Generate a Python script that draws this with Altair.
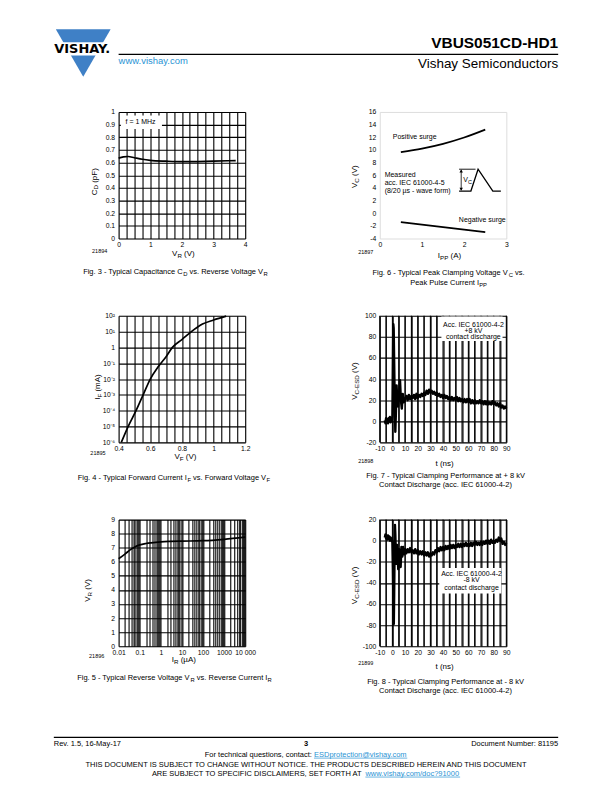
import altair as alt
import pandas as pd

FONT = "Liberation Sans"
LOGO_BLUE = "#3f80c6"
LINK_BLUE = "#2a93d4"
PW, PH = 127, 127
COL_GAP, ROW_GAP = 135, 77.5
LEFT_X, RIGHT_X = 118, 380
ROW_Y = [110, 314.5, 519]
SUB = 0.78

# ---------------- data ----------------
# Fig. 3  capacitance vs reverse voltage
fig3_vr = [0, 0.15, 0.3, 0.5, 0.75, 1.0, 1.5, 2.0, 2.5, 3.0, 3.7]
fig3_cd = [0.635, 0.645, 0.648, 0.638, 0.626, 0.618, 0.611, 0.607, 0.608, 0.611, 0.616]
fig3_xticks = [0, 0.25, 0.5, 0.75, 1, 1.25, 1.5, 1.75, 2, 2.25, 2.5, 2.75, 3, 3.25, 3.5, 3.75, 4]
fig3_xlab_at = [0, 1, 2, 3, 4]
fig3_xlab = ["0", "1", "2", "3", "4"]
fig3_yticks = [0, 0.1, 0.2, 0.3, 0.4, 0.5, 0.6, 0.7, 0.8, 0.9, 1]
fig3_ylab = ["0", "0.1", "0.2", "0.3", "0.4", "0.5", "0.6", "0.7", "0.8", "0.9", "1"]

# Fig. 6  clamping voltage vs peak pulse current
fig6_ipp = [0.5, 1.0, 1.5, 2.0, 2.5]
fig6_pos = [9.65, 10.2, 10.95, 11.95, 13.2]
fig6_neg = [-1.4, -1.8, -2.2, -2.6, -3.0]
fig6_xticks = [0, 1, 2, 3]
fig6_xlab = ["0", "1", "2", "3"]
fig6_yticks = [-4, -2, 0, 2, 4, 6, 8, 10, 12, 14, 16]
fig6_ylab = ["-4", "-2", "0", "2", "4", "6", "8", "10", "12", "14", "16"]
fig6_pulse_x = [1.88, 2.16, 2.33, 2.68, 2.87]
fig6_pulse_y = [3.5, 3.5, 6.95, 3.5, 3.5]

# Fig. 4  forward current vs forward voltage
fig4_vf = [0.417, 0.46, 0.51, 0.555, 0.60, 0.65, 0.70, 0.74, 0.80, 0.86, 0.93, 1.00, 1.08]
fig4_if = [1e-6, 1e-5, 1e-4, 1e-3, 1e-2, 6e-2, 0.26, 1.0, 3.1, 10, 30, 54, 95]
fig4_xticks = [0.4, 0.45, 0.5, 0.55, 0.6, 0.65, 0.7, 0.75, 0.8, 0.85, 0.9, 0.95, 1.0,
               1.05, 1.1, 1.15, 1.2]
fig4_xlab_at = [0.4, 0.6, 0.8, 1.0, 1.2]
fig4_xlab = ["0.4", "0.6", "0.8", "1", "1.2"]
fig4_yticks = [1e-6, 1e-5, 1e-4, 1e-3, 1e-2, 1e-1, 1, 10, 100]
fig4_ylab = ["10⁻⁶", "10⁻⁵", "10⁻⁴", "10⁻³", "10⁻²", "10⁻¹", "1", "10¹", "10²"]

# Fig. 5  reverse voltage vs reverse current
fig5_ir = [0.01, 0.02, 0.035, 0.056, 0.1, 0.2, 0.34, 1, 3, 10, 100, 1000, 10000]
fig5_vr = [6.22, 6.55, 6.85, 7.04, 7.2, 7.3, 7.35, 7.42, 7.45, 7.47, 7.5, 7.6, 7.75]
fig5_decades = [0.01, 0.1, 1, 10, 100, 1000, 10000]
fig5_xlab = ["0.01", "0.1", "1", "10", "100", "1000", "10 000"]
fig5_xticks = [d * m for d in fig5_decades[:-1] for m in range(1, 10)] + [10000]
fig5_yticks = [0, 1, 2, 3, 4, 5, 6, 7, 8, 9]
fig5_ylab = ["0", "1", "2", "3", "4", "5", "6", "7", "8", "9"]

# Fig. 7 / Fig. 8  ESD waveforms
wave_t_pre = [-6, -5.5, -5, -4.5, -4, -3.5, -3, -2.5, -2, -1.5, -1, -0.5, 0]
wave_t_post = [10, 11, 12, 13, 14, 15, 16, 17, 18, 19, 20, 21, 22, 23, 24, 25, 26, 27, 28, 29,
               30, 31, 32, 33, 34, 35, 36, 37, 38, 39, 40, 41, 42, 43, 44, 45, 46, 47, 48, 49,
               50, 51, 52, 53, 54, 55, 56, 57, 58, 59, 60, 61, 62, 63, 64, 65, 66, 67, 68, 69,
               70, 71, 72, 73, 74, 75, 76, 77, 78, 79, 80, 81, 82, 83, 84, 85, 86, 87, 88, 89, 90]
fig7_v_pre = [1, -2, 3, -1, 2, -2, 3, 0, 4, -1, 2, 0, 5]
fig7_t_spike = [0.3, 0.7, 1.0, 1.4, 1.8, 2.3, 2.8, 3.3, 3.8, 4.5, 5.2, 6.0, 6.7, 7.4, 8.2, 9.0]
fig7_v_spike = [40, 92, 88, 55, 20, -10, 10, 34, 20, 14, 25, 39, 20, 12, 26, 18]
fig7_v_post = [21, 24, 20, 25, 21, 24, 22, 25, 21, 26,
               22, 25, 23, 26, 24, 27, 25, 29, 26, 30,
               27, 29, 26, 28, 25, 27, 24, 26, 23, 25,
               22, 25, 22, 24, 21, 23, 20, 23, 20, 22,
               20, 23, 19, 22, 19, 21, 18, 21, 18, 21,
               18, 21, 17, 20, 17, 20, 17, 19, 17, 20,
               17, 19, 16, 19, 16, 19, 16, 18, 16, 19,
               16, 18, 15, 17, 14, 17, 13, 15, 12, 14, 12]
fig8_v_pre = [3, 6, 2, 5, 1, 5, 2, 4, 0, 3, 1, 2, -2]
fig8_t_spike = [0.4, 0.8, 1.1, 1.4, 1.7, 2.0, 2.3, 2.7, 3.2, 3.7, 4.2, 4.6, 5.2, 5.8, 6.5, 7.1,
                7.8, 8.5, 9.2]
fig8_v_spike = [-25, -62, -79, -50, -12, 15, 6, -12, -22, -4, -14, -27, -8, -16, -25, -6,
                -15, -6, -13]
fig8_v_post = [-8, -12, -8, -11, -7, -11, -9, -12, -8, -12,
               -9, -13, -10, -13, -10, -14, -11, -14, -11, -15,
               -12, -14, -11, -13, -9, -11, -7, -10, -6, -9,
               -6, -9, -5, -8, -5, -8, -4, -7, -4, -7,
               -4, -6, -3, -6, -3, -6, -3, -5, -2, -5,
               -3, -5, -2, -5, -2, -4, -1, -4, -2, -4,
               -1, -4, -1, -3, 0, -3, 0, -3, 1, -2,
               0, -2, 1, -1, 3, 0, 2, -3, -1, -4, -2]
esd_xticks = [-10, -5, 0, 5, 10, 15, 20, 25, 30, 35, 40, 45, 50, 55, 60, 65, 70, 75, 80, 85, 90]
esd_xlab_at = [-10, 0, 10, 20, 30, 40, 50, 60, 70, 80, 90]
esd_xlab = ["-10", "0", "10", "20", "30", "40", "50", "60", "70", "80", "90"]
fig7_yticks = [-20, 0, 20, 40, 60, 80, 100]
fig7_ylab = ["-20", "0", "20", "40", "60", "80", "100"]
fig8_yticks = [-100, -80, -60, -40, -20, 0, 20]
fig8_ylab = ["-100", "-80", "-60", "-40", "-20", "0", "20"]

# ---------------- helpers ----------------
AW = {' ': 278, '!': 278, '#': 556, '%': 889, '&': 667, "'": 191, '(': 333, ')': 333,
      '+': 584, ',': 278, '-': 333, '.': 278, '/': 278, ':': 278, ';': 278, '=': 584,
      '?': 556, '@': 1015, 'A': 667, 'B': 667, 'C': 722, 'D': 722, 'E': 667, 'F': 611,
      'G': 778, 'H': 722, 'I': 278, 'J': 500, 'K': 667, 'L': 556, 'M': 833, 'N': 722,
      'O': 778, 'P': 667, 'Q': 778, 'R': 722, 'S': 667, 'T': 611, 'U': 722, 'V': 667,
      'W': 944, 'X': 667, 'Y': 667, 'Z': 611, 'a': 556, 'b': 556, 'c': 500, 'd': 556,
      'e': 556, 'f': 278, 'g': 556, 'h': 556, 'i': 222, 'j': 222, 'k': 500, 'l': 222,
      'm': 833, 'n': 556, 'o': 556, 'p': 556, 'q': 556, 'r': 333, 's': 500, 't': 278,
      'u': 556, 'v': 500, 'w': 722, 'x': 500, 'y': 500, 'z': 500, 'µ': 556}


def tw(s, size):
    return sum(AW.get(c, 556) for c in s) * size / 1000.0


def label_expr(vals, texts):
    expr = "''"
    for v, t in reversed(list(zip(vals, texts))):
        tol = abs(v) * 1e-3 + 1e-9
        expr = f"(abs(datum.value - ({v!r})) < {tol!r} ? '{t}' : {expr})"
    return expr


def mk_axis(values, lab_vals, lab_txt, grid=True, pad=3):
    return alt.Axis(values=values, grid=grid, gridColor="black", gridWidth=1.1, gridOpacity=1,
                    ticks=False, domain=False, labelFont=FONT, labelFontSize=6.8,
                    labelColor="black", labelPadding=pad, labelFlush=False,
                    labelOverlap=False, labelExpr=label_expr(lab_vals, lab_txt), title=None)


ONE = pd.DataFrame({"k": [0]})


class Host:
    """Page-level texts and rules, placed relative to one figure's plot origin."""

    def __init__(self, ox, oy):
        self.ox, self.oy = ox, oy
        self.layers = []

    def text(self, s, px, py, size=7.5, align="left", angle=0, color="black",
             weight="normal", font=FONT):
        mk = dict(text=s, font=font, fontSize=size, fontWeight=weight, align=align,
                  baseline="alphabetic", color=color)
        if angle:
            mk["angle"] = angle
        self.layers.append(alt.Chart(ONE).mark_text(**mk).encode(
            x=alt.value(px - self.ox), y=alt.value(py - self.oy)))

    def rich(self, parts, px, py, size=7.5, align="center", angle=0):
        sizes = [size * SUB if p[1] else size for p in parts]
        ws = [tw(p[0], s) for p, s in zip(parts, sizes)]
        total = sum(ws)
        off = {"left": 0.0, "center": -total / 2, "right": -total}[align]
        spans = []
        for p, s, w in zip(parts, sizes, ws):
            color = p[2] if len(p) > 2 else "black"
            shift = size * 0.22 if p[1] else 0.0
            body = p[0].lstrip(" ")
            lead = tw(p[0][:len(p[0]) - len(body)], s)
            if angle == 270:
                self.text(body, px + shift, py - off - lead, size=s, angle=270, color=color)
            else:
                self.text(body, px + off + lead, py + shift, size=s, color=color)
            spans.append((px + off + lead, px + off + w))
            off += w
        return spans

    def rule(self, x1, y1, x2, y2, color="black", width=1.0):
        self.layers.append(alt.Chart(ONE).mark_rule(color=color, strokeWidth=width).encode(
            x=alt.value(x1 - self.ox), x2=alt.value(x2 - self.ox),
            y=alt.value(y1 - self.oy), y2=alt.value(y2 - self.oy)))

    def symbol(self, px, py, shape, size, color):
        self.layers.append(alt.Chart(ONE).mark_point(
            shape=shape, size=size, filled=True, color=color, opacity=1, strokeWidth=0).encode(
            x=alt.value(px - self.ox), y=alt.value(py - self.oy)))

    def anchor(self):
        self.layers.append(alt.Chart(ONE).mark_rect(opacity=0).encode(
            x=alt.value(-self.ox), x2=alt.value(612 - self.ox),
            y=alt.value(-self.oy), y2=alt.value(792 - self.oy)))


class Axes:
    """Shared scales/axes of one figure, for annotations placed in data units."""

    def __init__(self, sx, ax, sy, ay):
        self.sx, self.ax, self.sy, self.ay = sx, ax, sy, ay

    def X(self, field):
        return alt.X(field, type="quantitative", scale=self.sx, axis=self.ax)

    def Y(self, field):
        return alt.Y(field, type="quantitative", scale=self.sy, axis=self.ay)

    def dx(self, v):
        return alt.XDatum(v, type="quantitative", scale=self.sx, axis=self.ax)

    def dy(self, v):
        return alt.YDatum(v, type="quantitative", scale=self.sy, axis=self.ay)

    def text(self, s, x, y, size=7, align="left", dx=0, dy=0):
        return alt.Chart(ONE).mark_text(text=s, font=FONT, fontSize=size, align=align,
                                        baseline="middle", color="black", dx=dx, dy=dy).encode(
            x=self.dx(x), y=self.dy(y))

    def box(self, x1, x2, y1, y2):
        return alt.Chart(ONE).mark_rect(color="white", opacity=1).encode(
            x=self.dx(x1), x2=alt.X2Datum(x2), y=self.dy(y1), y2=alt.Y2Datum(y2))

    def hrule(self, x1, x2, y, width=0.9):
        return alt.Chart(ONE).mark_rule(color="black", strokeWidth=width).encode(
            x=self.dx(x1), x2=alt.X2Datum(x2), y=self.dy(y))

    def vrule(self, x, y1, y2, width=0.8):
        return alt.Chart(ONE).mark_rule(color="black", strokeWidth=width).encode(
            x=self.dx(x), y=self.dy(y1), y2=alt.Y2Datum(y2))

    def marker(self, x, y, shape, size=12):
        return alt.Chart(ONE).mark_point(shape=shape, size=size, filled=True, color="black",
                                         opacity=1, strokeWidth=0).encode(
            x=self.dx(x), y=self.dy(y))

    def vgrid(self, ticks):
        dfg = pd.DataFrame({"g": ticks})
        return alt.Chart(dfg).mark_rule(color="black", strokeWidth=1.1).encode(
            x=self.X("g"), y=alt.value(0), y2=alt.value(PH))


LINE = dict(color="black", strokeWidth=1.7, interpolate="monotone", strokeJoin="round")
WAVE = dict(color="black", strokeWidth=2.4, strokeJoin="round")

# ================= Fig. 3 (with page header/footer) =================
h3 = Host(LEFT_X, ROW_Y[0])
h3.anchor()
# logo
h3.symbol(82.5, 50.8, "triangle-down", 3025, LOGO_BLUE)
h3.rule(47, 46.7, 117, 46.7, color="white", width=13.3)
h3.text("VISHAY.", 81.5, 51.0, size=13, align="center", weight="bold", font="DejaVu Sans")
# header
h3.text("VBUS051CD-HD1", 559, 45.5, size=15.5, align="right", weight="bold")
h3.rule(118, 52.3, 559, 52.3, width=1.1)
h3.text("www.vishay.com", 118, 62, size=9.5, color=LINK_BLUE)
h3.text("Vishay Semiconductors", 559, 66, size=13.5, align="right")
# footer
h3.rule(53, 737.5, 559, 737.5, width=1.1)
h3.text("Rev. 1.5, 16-May-17", 53, 746.5, size=7.5)
h3.text("3", 306, 746.5, size=7.5, align="center", weight="bold")
h3.text("Document Number: 81195", 559, 746.5, size=7.5, align="right")
sp = h3.rich([("For technical questions, contact: ", False),
              ("ESDprotection@vishay.com", False, LINK_BLUE)], 306, 757, size=7.5)
h3.rule(sp[1][0], 758.3, sp[1][1], 758.3, color=LINK_BLUE, width=0.7)
h3.text("THIS DOCUMENT IS SUBJECT TO CHANGE WITHOUT NOTICE. THE PRODUCTS DESCRIBED HEREIN "
        "AND THIS DOCUMENT", 306, 767, size=7.5, align="center")
sp = h3.rich([("ARE SUBJECT TO SPECIFIC DISCLAIMERS, SET FORTH AT ", False),
              ("www.vishay.com/doc?91000", False, LINK_BLUE)], 306, 776, size=7.5)
h3.rule(sp[1][0], 777.3, sp[1][1], 777.3, color=LINK_BLUE, width=0.7)
# figure texts
h3.rich([("C", False), ("D", True), (" (pF)", False)], 96, 180, size=8, angle=270)
h3.rich([("V", False), ("R", True), (" (V)", False)], 183, 255, size=8)
h3.text("21894", 99, 251.5, size=5.5, align="center")
h3.rich([("Fig. 3 - Typical Capacitance C", False), ("D", True),
         (" vs. Reverse Voltage V", False), ("R", True)], 175, 273, size=7.5)

a3 = Axes(alt.Scale(domain=[0, 4], nice=False, zero=False),
          mk_axis(fig3_xticks, fig3_xlab_at, fig3_xlab),
          alt.Scale(domain=[0, 1], nice=False, zero=False),
          mk_axis(fig3_yticks, fig3_yticks, fig3_ylab, pad=4))
df3 = pd.DataFrame({"vr": fig3_vr, "cd": fig3_cd})
fig3 = alt.layer(
    alt.Chart(df3).mark_line(**LINE).encode(x=a3.X("vr"), y=a3.Y("cd")),
    a3.box(0.07, 1.37, 0.866, 0.972),
    a3.text("f = 1 MHz", 0.22, 0.917),
    *h3.layers,
).properties(width=PW, height=PH)

# ================= Fig. 6 =================
h6 = Host(RIGHT_X, ROW_Y[0])
h6.rich([("V", False), ("C", True), (" (V)", False)], 357.5, 175, size=8, angle=270)
h6.rich([("I", False), ("PP", True), (" (A)", False)], 450, 257, size=8)
h6.text("21897", 366, 252.3, size=5.5, align="center")
h6.rich([("Fig. 6 - Typical Peak Clamping Voltage V", False), ("C", True), (" vs.", False)],
        449, 274, size=7.5)
h6.rich([("Peak Pulse Current I", False), ("PP", True)], 449, 283.5, size=7.5)

a6 = Axes(alt.Scale(domain=[0, 3], nice=False, zero=False),
          mk_axis(fig6_xticks, fig6_xticks, fig6_xlab, grid=False),
          alt.Scale(domain=[-4, 16], nice=False, zero=False),
          mk_axis(fig6_yticks, fig6_yticks, fig6_ylab, grid=False, pad=4))
df6 = pd.DataFrame({"ipp": fig6_ipp, "pos": fig6_pos, "neg": fig6_neg})
dfp = pd.DataFrame({"px": fig6_pulse_x, "py": fig6_pulse_y,
                    "o": list(range(len(fig6_pulse_x)))})
fig6 = alt.layer(
    alt.Chart(df6).mark_line(**LINE).encode(x=a6.X("ipp"), y=a6.Y("pos")),
    alt.Chart(df6).mark_line(**LINE).encode(x=a6.X("ipp"), y=a6.Y("neg")),
    alt.Chart(dfp).mark_line(color="black", strokeWidth=1.3).encode(
        x=a6.X("px"), y=a6.Y("py"), order="o:Q"),
    a6.hrule(1.88, 2.27, 6.95),
    a6.vrule(1.93, 3.7, 6.8),
    a6.marker(1.93, 6.65, "triangle-up"),
    a6.marker(1.93, 3.8, "triangle-down"),
    a6.text("V", 1.98, 5.3),
    a6.text("C", 1.98, 5.3, size=5.5, dx=4.7, dy=2),
    a6.text("Positive surge", 0.31, 12.0),
    a6.text("Measured", 0.116, 6.0),
    a6.text("acc. IEC 61000-4-5", 0.116, 4.75),
    a6.text("(8/20 µs - wave form)", 0.116, 3.55),
    a6.text("Negative surge", 2.43, -1.12, align="center"),
    *h6.layers,
).properties(width=PW, height=PH)

# ================= Fig. 4 =================
h4 = Host(LEFT_X, ROW_Y[1])
h4.rich([("I", False), ("F", True), (" (mA)", False)], 99.5, 386, size=8, angle=270)
h4.rich([("V", False), ("F", True), (" (V)", False)], 185, 458, size=8)
h4.text("21895", 97.3, 453.7, size=5.5, align="center")
h4.rich([("Fig. 4 - Typical Forward Current I", False), ("F", True),
         (" vs. Forward Voltage V", False), ("F", True)], 173.5, 479.3, size=7.5)

a4 = Axes(alt.Scale(domain=[0.4, 1.2], nice=False, zero=False),
          mk_axis(fig4_xticks, fig4_xlab_at, fig4_xlab),
          alt.Scale(type="log", domain=[1e-6, 100], nice=False),
          mk_axis(fig4_yticks, fig4_yticks, fig4_ylab, pad=4))
df4 = pd.DataFrame({"vf": fig4_vf, "ifwd": fig4_if})
fig4 = alt.layer(
    alt.Chart(df4).mark_line(**LINE).encode(x=a4.X("vf"), y=a4.Y("ifwd")),
    *h4.layers,
).properties(width=PW, height=PH)

# ================= Fig. 7 =================
h7 = Host(RIGHT_X, ROW_Y[1])
h7.rich([("V", False), ("C-ESD", True), (" (V)", False)], 357.5, 380, size=8, angle=270)
h7.text("t (ns)", 445, 465, size=8, align="center")
h7.text("21898", 366, 462, size=5.5, align="center")
h7.text("Fig. 7 - Typical Clamping Performance at + 8 kV", 446, 477, size=7.5, align="center")
h7.text("Contact Discharge (acc. IEC 61000-4-2)", 446, 486, size=7.5, align="center")

a7 = Axes(alt.Scale(domain=[-10, 90], nice=False, zero=False),
          mk_axis(esd_xticks, esd_xlab_at, esd_xlab),
          alt.Scale(domain=[-20, 100], nice=False, zero=False),
          mk_axis(fig7_yticks, fig7_yticks, fig7_ylab, pad=4))
df7 = pd.DataFrame({"t": wave_t_pre + fig7_t_spike + wave_t_post,
                    "v": fig7_v_pre + fig7_v_spike + fig7_v_post})
fig7 = alt.layer(
    a7.vgrid(esd_xticks),
    alt.Chart(df7).mark_line(**WAVE).encode(x=a7.X("t"), y=a7.Y("v")),
    a7.box(38.7, 87, 76, 99.4),
    a7.text("Acc. IEC 61000-4-2", 64, 91.5, align="center"),
    a7.text("+8 kV", 64, 85.8, align="center"),
    a7.text("contact discharge", 64, 79.5, align="center"),
    *h7.layers,
).properties(width=PW, height=PH)

# ================= Fig. 5 =================
h5 = Host(LEFT_X, ROW_Y[2])
h5.rich([("V", False), ("R", True), (" (V)", False)], 89.5, 590, size=8, angle=270)
h5.rich([("I", False), ("R", True), (" (µA)", False)], 183.3, 661.7, size=8)
h5.text("21896", 96, 658, size=5.5, align="center")
h5.rich([("Fig. 5 - Typical Reverse Voltage V", False), ("R", True),
         (" vs. Reverse Current I", False), ("R", True)], 174, 680, size=7.5)

a5 = Axes(alt.Scale(type="log", domain=[0.01, 10000], nice=False),
          mk_axis(fig5_xticks, fig5_decades, fig5_xlab),
          alt.Scale(domain=[0, 9], nice=False, zero=False),
          mk_axis(fig5_yticks, fig5_yticks, fig5_ylab, pad=4))
df5 = pd.DataFrame({"ir": fig5_ir, "vr": fig5_vr})
fig5 = alt.layer(
    alt.Chart(df5).mark_line(**LINE).encode(x=a5.X("ir"), y=a5.Y("vr")),
    *h5.layers,
).properties(width=PW, height=PH)

# ================= Fig. 8 =================
h8 = Host(RIGHT_X, ROW_Y[2])
h8.rich([("V", False), ("C-ESD", True), (" (V)", False)], 357.5, 585, size=8, angle=270)
h8.text("t (ns)", 445, 668.4, size=8, align="center")
h8.text("21899", 366, 664.7, size=5.5, align="center")
h8.text("Fig. 8 - Typical Clamping Performance at - 8 kV", 446, 684.3, size=7.5, align="center")
h8.text("Contact Discharge (acc. IEC 61000-4-2)", 446, 693.3, size=7.5, align="center")

a8 = Axes(alt.Scale(domain=[-10, 90], nice=False, zero=False),
          mk_axis(esd_xticks, esd_xlab_at, esd_xlab),
          alt.Scale(domain=[-100, 20], nice=False, zero=False),
          mk_axis(fig8_yticks, fig8_yticks, fig8_ylab, pad=4))
df8 = pd.DataFrame({"t": wave_t_pre + fig8_t_spike + wave_t_post,
                    "v": fig8_v_pre + fig8_v_spike + fig8_v_post})
fig8 = alt.layer(
    a8.vgrid(esd_xticks),
    alt.Chart(df8).mark_line(**WAVE).encode(x=a8.X("t"), y=a8.Y("v")),
    a8.box(37, 86, -50, -26),
    a8.text("Acc. IEC 61000-4-2", 62.5, -31.2, align="center"),
    a8.text("-8 kV", 62.5, -37.5, align="center"),
    a8.text("contact discharge", 62.5, -44.5, align="center"),
    *h8.layers,
).properties(width=PW, height=PH)

# ================= page assembly =================
chart = alt.concat(
    fig3, fig6, fig4, fig7, fig5, fig8,
    columns=2, spacing={"row": ROW_GAP, "column": COL_GAP}, bounds="flush",
).properties(
    padding=0, background="white"
).configure_view(stroke="black", strokeWidth=1.2).configure(font=FONT)

chart.save("out.html", embed_options={"renderer": "svg", "actions": False})
